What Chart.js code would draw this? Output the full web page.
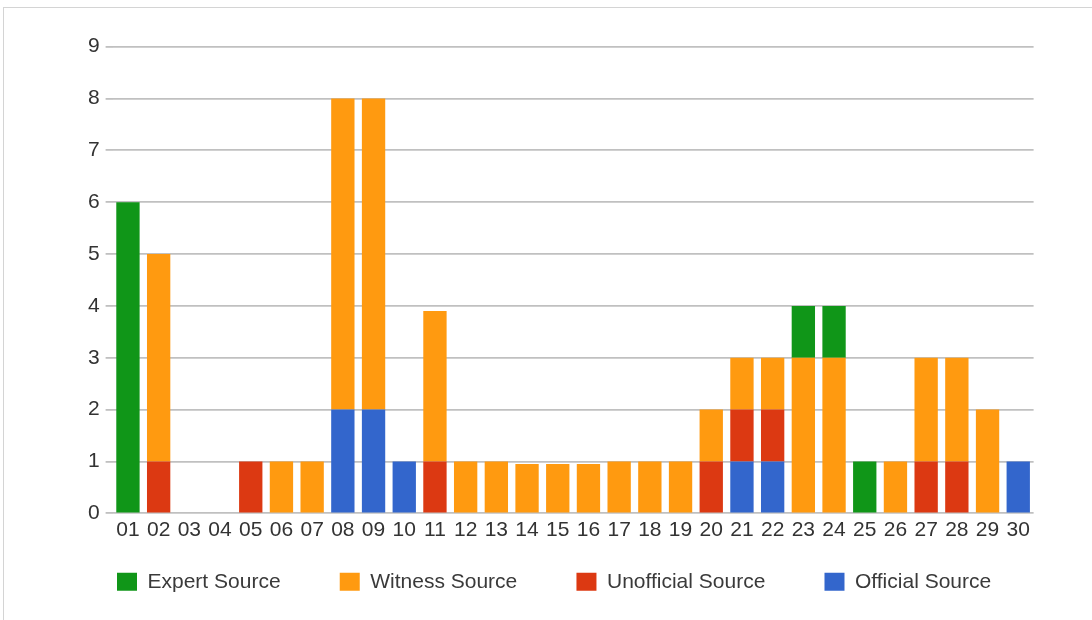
<!DOCTYPE html>
<html>
<head>
<meta charset="utf-8">
<script src="https://cdn.jsdelivr.net/npm/chart.js@4"></script>
<style>
  body { margin: 0; background: #fff; }
  #wrap { position: relative; width: 1092px; height: 620px; }
  #frame { position: absolute; left: 3px; top: 7px; right: 0; bottom: 0;
           border-left: 1px solid #d4d4d4; border-top: 1px solid #d4d4d4; }
</style>
</head>
<body>
<div id="wrap">
  <div id="frame"></div>
  <canvas id="sourceChart"></canvas>
</div>
<script>
const days = ['01','02','03','04','05','06','07','08','09','10','11','12','13','14','15',
              '16','17','18','19','20','21','22','23','24','25','26','27','28','29','30'];
const yTicks = [0, 1, 2, 3, 4, 5, 6, 7, 8, 9];

const expert     = [6,0,0,0,0,0,0,0,0,0,0,0,0,0,0,0,0,0,0,0,0,0,1,1,1,0,0,0,0,0];
const witness    = [0,4,0,0,0,1,1,6,6,0,2.9,1,1,0.95,0.95,0.95,1,1,1,1,1,1,3,3,0,1,2,2,2,0];
const unofficial = [0,1,0,0,1,0,0,0,0,0,1,0,0,0,0,0,0,0,0,1,1,1,0,0,0,0,1,1,0,0];
const official   = [0,0,0,0,0,0,0,2,2,1,0,0,0,0,0,0,0,0,0,0,1,1,0,0,0,0,0,0,0,1];

const font = { family: 'Liberation Sans, Arial, sans-serif', size: 21 };

const ctx = document.getElementById('sourceChart').getContext('2d');

// official sits at the bottom of each stack, legend is reversed back
new Chart(ctx, {
    type: 'bar',
    data: {
        labels: days,
        datasets: [
            { label: 'Official Source', data: official, backgroundColor: '#3366cc' },
            { label: 'Unofficial Source', data: unofficial, backgroundColor: '#dc3912' },
            { label: 'Witness Source', data: witness, backgroundColor: '#ff9a10' },
            { label: 'Expert Source', data: expert, backgroundColor: '#109618' }
        ]
    },
    options: {
        responsive: true,
        maintainAspectRatio: false,
        animation: false,
        layout: {
            padding: { left: 87, right: 58.4, top: 46.7, bottom: 17.7 }
        },
        datasets: {
            bar: { categoryPercentage: 1, barPercentage: 0.76, borderWidth: 0 }
        },
        plugins: {
            tooltip: { enabled: false },
            legend: {
                position: 'bottom',
                align: 'start',
                reverse: true,
                labels: {
                    boxWidth: 20,
                    boxHeight: 18,
                    padding: 30,
                    color: '#3a3a3a',
                    font: font,
                    // wider gap between items without extra vertical padding
                    generateLabels: function(chart) {
                        const items = Chart.defaults.plugins.legend.labels.generateLabels(chart);
                        items.forEach(it => {
                            if (it.text !== 'Official Source') it.text += '     ';
                        });
                        return items;
                    }
                }
            }
        },
        scales: {
            x: {
                stacked: true,
                grid: { display: false, drawTicks: false },
                border: { display: false },
                ticks: {
                    padding: 4,
                    color: '#333',
                    maxRotation: 0,
                    autoSkip: false,
                    font: font
                },
                afterFit: function(scale) { scale.height = 28; }
            },
            y: {
                stacked: true,
                min: 0,
                max: 9,
                afterBuildTicks: function(scale) {
                    scale.ticks = yTicks.map(v => ({ value: v }));
                },
                grid: { color: '#c0c0c0', lineWidth: 1.8, tickLength: 7 },
                border: { display: false },
                ticks: {
                    padding: 6,
                    color: '#333',
                    font: font
                },
                afterFit: function(scale) { scale.width = 25.6; }
            }
        }
    }
});
</script>
</body>
</html>
